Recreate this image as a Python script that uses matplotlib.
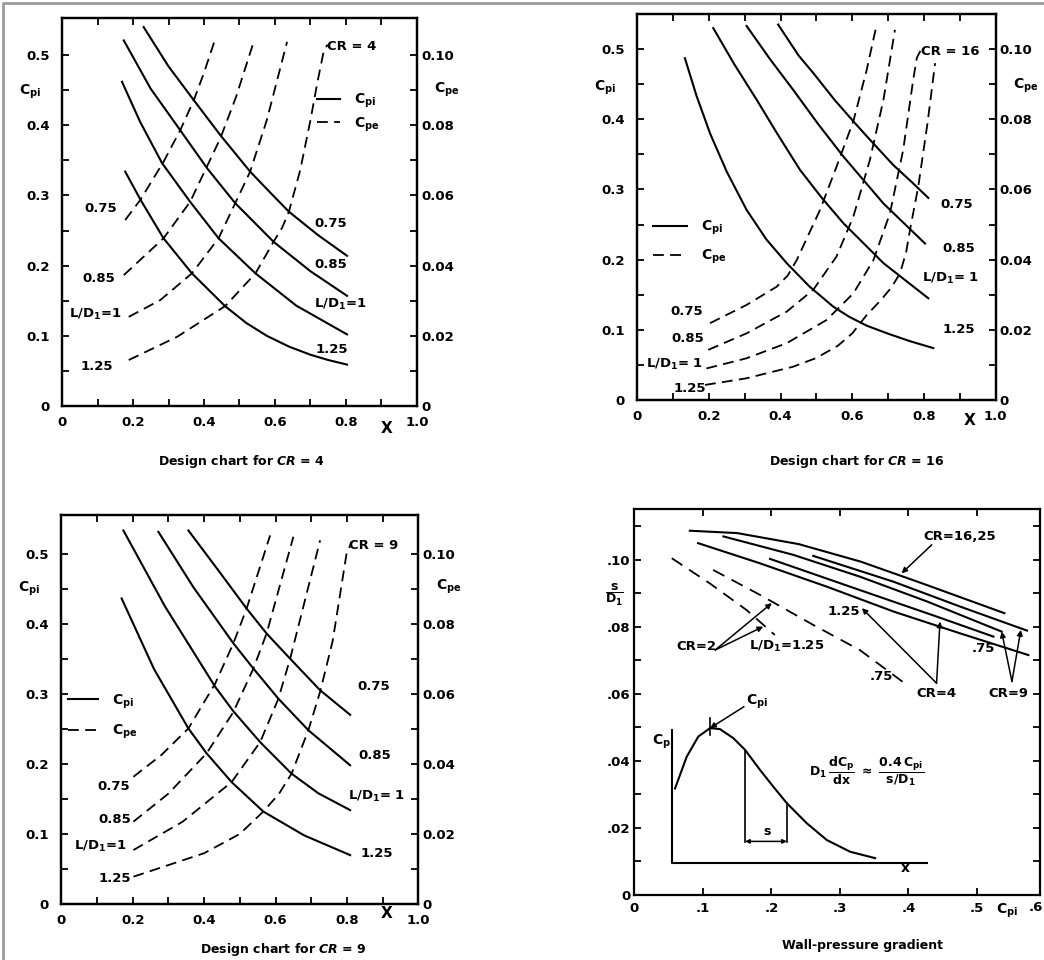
import matplotlib
matplotlib.use("Agg")
import matplotlib.pyplot as plt
from matplotlib.lines import Line2D

plt.rcParams['font.family'] = ['DejaVu Sans']
plt.rcParams['font.weight'] = 'bold'
plt.rcParams['mathtext.default'] = 'bf'
plt.rcParams['axes.linewidth'] = 1.6

DASH = (0, (6, 3.5))
BR_DASH = (0, (7, 4.5))

# ---- Design chart CR = 4 : Cpi (solid, left axis) and Cpe (dashed, right axis) vs X
cr4_cpi = {
    '0.75': ([0.230, 0.30, 0.371, 0.446, 0.530, 0.585, 0.639, 0.72, 0.803],
             [0.540, 0.484, 0.436, 0.386, 0.334, 0.305, 0.277, 0.244, 0.214]),
    '0.85': ([0.174, 0.25, 0.333, 0.41, 0.488, 0.596, 0.70, 0.803],
             [0.521, 0.452, 0.393, 0.338, 0.289, 0.234, 0.192, 0.157]),
    '1': ([0.169, 0.22, 0.282, 0.361, 0.441, 0.545, 0.66, 0.803],
          [0.462, 0.405, 0.346, 0.291, 0.239, 0.189, 0.143, 0.102]),
    '1.25': ([0.178, 0.221, 0.286, 0.366, 0.460, 0.52, 0.577, 0.64, 0.70, 0.75, 0.803],
             [0.334, 0.294, 0.239, 0.189, 0.142, 0.118, 0.100, 0.0845, 0.073, 0.0655, 0.059]),
}
cr4_cpe = {
    '0.75': ([0.178, 0.221, 0.286, 0.333, 0.371, 0.399, 0.432],
             [0.0530, 0.0588, 0.0696, 0.0786, 0.0871, 0.0947, 0.1047]),
    '0.85': ([0.174, 0.286, 0.361, 0.408, 0.446, 0.490, 0.540],
             [0.0373, 0.0478, 0.0582, 0.0682, 0.0763, 0.0880, 0.1038]),
    '1': ([0.188, 0.277, 0.366, 0.441, 0.488, 0.530, 0.577, 0.634],
          [0.0254, 0.0302, 0.0378, 0.0478, 0.0578, 0.0668, 0.0815, 0.1038]),
    '1.25': ([0.188, 0.324, 0.460, 0.545, 0.596, 0.62, 0.639, 0.671, 0.700, 0.719, 0.737, 0.748],
             [0.0131, 0.0197, 0.0285, 0.0378, 0.0468, 0.0508, 0.0553, 0.0672, 0.0815, 0.0920, 0.1010, 0.1030]),
}

# ---- Design chart CR = 16
cr16_cpi = {
    '0.75': ([0.393, 0.45, 0.491, 0.55, 0.603, 0.649, 0.714, 0.765, 0.812],
             [0.535, 0.491, 0.466, 0.428, 0.397, 0.371, 0.335, 0.311, 0.288]),
    '0.85': ([0.305, 0.37, 0.435, 0.505, 0.575, 0.687, 0.803],
             [0.533, 0.486, 0.442, 0.393, 0.347, 0.280, 0.223]),
    '1': ([0.212, 0.27, 0.333, 0.39, 0.454, 0.515, 0.575, 0.687, 0.812],
          [0.530, 0.479, 0.428, 0.380, 0.328, 0.288, 0.252, 0.195, 0.145]),
    '1.25': ([0.133, 0.165, 0.203, 0.25, 0.305, 0.36, 0.417, 0.48, 0.547, 0.59, 0.64, 0.70, 0.76, 0.826],
             [0.487, 0.434, 0.380, 0.325, 0.271, 0.229, 0.195, 0.162, 0.133, 0.119, 0.106, 0.0945, 0.084, 0.074]),
}
cr16_cpe = {
    '0.75': ([0.203, 0.305, 0.389, 0.42, 0.445, 0.510, 0.556, 0.603, 0.640, 0.668],
             [0.0219, 0.0271, 0.0323, 0.0355, 0.0399, 0.0542, 0.0665, 0.0795, 0.0940, 0.1070]),
    '0.85': ([0.198, 0.305, 0.417, 0.491, 0.556, 0.603, 0.649, 0.687, 0.719],
             [0.0143, 0.0190, 0.0252, 0.0314, 0.0409, 0.0523, 0.0684, 0.0856, 0.1055]),
    '1': ([0.193, 0.305, 0.417, 0.528, 0.603, 0.659, 0.705, 0.742, 0.770, 0.780, 0.790],
          [0.0090, 0.0119, 0.0162, 0.0228, 0.0304, 0.0399, 0.0532, 0.0713, 0.0913, 0.0975, 0.0995]),
    '1.25': ([0.189, 0.305, 0.435, 0.50, 0.56, 0.60, 0.64, 0.68, 0.71, 0.733, 0.75, 0.761, 0.784, 0.81, 0.831],
             [0.0043, 0.0062, 0.0095, 0.0120, 0.0155, 0.0190, 0.0242, 0.0285, 0.0322, 0.0361, 0.0420,
              0.0485, 0.0608, 0.0790, 0.0960]),
}

# ---- Design chart CR = 9
cr9_cpi = {
    '0.75': ([0.356, 0.44, 0.519, 0.575, 0.641, 0.725, 0.809],
             [0.533, 0.476, 0.4216, 0.386, 0.350, 0.305, 0.270]),
    '0.85': ([0.272, 0.37, 0.482, 0.538, 0.608, 0.692, 0.809],
             [0.531, 0.452, 0.372, 0.336, 0.293, 0.248, 0.198]),
    '1': ([0.174, 0.29, 0.431, 0.482, 0.557, 0.645, 0.72, 0.809],
          [0.533, 0.425, 0.310, 0.275, 0.231, 0.186, 0.158, 0.134]),
    '1.25': ([0.169, 0.26, 0.356, 0.407, 0.477, 0.566, 0.68, 0.809],
             [0.436, 0.335, 0.2505, 0.215, 0.174, 0.1319, 0.098, 0.0698]),
}
cr9_cpe = {
    '0.75': ([0.202, 0.28, 0.356, 0.431, 0.482, 0.519, 0.585],
             [0.0363, 0.0425, 0.0501, 0.0629, 0.0744, 0.0843, 0.1052]),
    '0.85': ([0.202, 0.30, 0.407, 0.482, 0.538, 0.575, 0.650],
             [0.0235, 0.0315, 0.0430, 0.0548, 0.0672, 0.0772, 0.1048]),
    '1': ([0.202, 0.34, 0.477, 0.557, 0.608, 0.641, 0.725],
          [0.0154, 0.0235, 0.0348, 0.0462, 0.0586, 0.0700, 0.1038]),
    '1.25': ([0.202, 0.40, 0.50, 0.566, 0.61, 0.645, 0.692, 0.725, 0.76, 0.799, 0.812],
             [0.0078, 0.0145, 0.0200, 0.0264, 0.0315, 0.0372, 0.0496, 0.0606, 0.0750, 0.1000, 0.1030]),
}

# ---- Wall-pressure gradient: s/D1 vs Cpi
wall_solid = [
    ([0.081, 0.15, 0.24, 0.33, 0.42, 0.54], [0.1087, 0.1080, 0.1047, 0.0995, 0.0930, 0.0841]),
    ([0.130, 0.232, 0.329, 0.427, 0.536], [0.1070, 0.1015, 0.0950, 0.0876, 0.0786]),
    ([0.261, 0.378, 0.475, 0.573], [0.1012, 0.0935, 0.0861, 0.0789]),
    ([0.198, 0.329, 0.441, 0.524], [0.1003, 0.0910, 0.0831, 0.0771]),
    ([0.093, 0.183, 0.281, 0.378, 0.475, 0.575], [0.1050, 0.0990, 0.0920, 0.0846, 0.0781, 0.0716]),
]
wall_dashed = [
    ([0.0546, 0.110, 0.164, 0.205], [0.1005, 0.0930, 0.0850, 0.0776]),
    ([0.115, 0.183, 0.261, 0.329, 0.393], [0.0970, 0.0896, 0.0806, 0.0731, 0.0634]),
]
# inset sketch: Cp along x
inset_x = [0.0594, 0.0765, 0.0934, 0.1105, 0.125, 0.1445, 0.1616, 0.1835, 0.2029,
           0.2225, 0.2517, 0.2809, 0.315, 0.3514]
inset_cp = [0.0318, 0.0413, 0.0473, 0.0498, 0.0495, 0.0468, 0.0433, 0.0373, 0.0323,
            0.0274, 0.0214, 0.0164, 0.0129, 0.0110]
inset_axis_x = [0.0546, 0.0546, 0.4268]
inset_axis_y = [0.0493, 0.0096, 0.0096]

fig = plt.figure(figsize=(10.44, 9.6), dpi=100)
fig.add_artist(Line2D([0.003, 0.003, 1.0], [0.0, 0.997, 0.997], transform=fig.transFigure,
                      color='#9a9a9a', lw=2))


def design_chart(rect, cpi, cpe, ytop, left_labels, right_labels, cr_label, legend_pos,
                 legend_len, legend_space, xlabel_pos, title_xy, title):
    ax = fig.add_axes(rect)
    ax.set_xlim(0, 1)
    ax.set_ylim(0, ytop)
    for xs, ys in cpi.values():
        ax.plot(xs, ys, color='k', lw=1.5)
    ax2 = ax.twinx()
    ax2.set_ylim(0, ytop / 5)
    for xs, ys in cpe.values():
        ax2.plot(xs, ys, color='k', lw=1.3, ls=DASH)

    ax.set_xticks([0, 0.2, 0.4, 0.6, 0.8, 1.0], ['0', '0.2', '0.4', '0.6', '0.8', '1.0'])
    ax.set_xticks([0.1, 0.3, 0.5, 0.7, 0.9], minor=True)
    ax.set_yticks([0, 0.1, 0.2, 0.3, 0.4, 0.5], ['0', '0.1', '0.2', '0.3', '0.4', '0.5'])
    ax.set_yticks([0.05, 0.15, 0.25, 0.35, 0.45], minor=True)
    ax2.set_yticks([0, 0.02, 0.04, 0.06, 0.08, 0.10], ['0', '0.02', '0.04', '0.06', '0.08', '0.10'])
    ax2.set_yticks([0.01, 0.03, 0.05, 0.07, 0.09], minor=True)
    ax.tick_params(which='both', direction='in', length=5, width=1.3, top=True, right=False,
                   labelsize=9.5)
    ax.tick_params(axis='y', pad=9)
    ax.tick_params(axis='x', pad=7)
    ax2.tick_params(which='both', direction='in', length=5, width=1.3, labelsize=9.5, pad=3)

    for txt, (x, y) in left_labels + right_labels:
        ax.text(x, y, txt, ha='center', va='center', fontsize=9.5)
    ax.text(cr_label[1][0], cr_label[1][1], cr_label[0], ha='center', va='center', fontsize=9.5)

    handles = [Line2D([], [], color='k', lw=1.5), Line2D([], [], color='k', lw=1.3, ls=DASH)]
    ax.legend(handles, [r'C$_{pi}$', r'C$_{pe}$'], frameon=False, loc='center left',
              bbox_to_anchor=legend_pos, borderpad=0, borderaxespad=0, fontsize=10,
              handlelength=legend_len, handletextpad=1.0, labelspacing=legend_space)

    ax.text(-0.09, 0.81, r'C$_{pi}$', transform=ax.transAxes, ha='center', va='center', fontsize=10)
    ax.text(1.085, 0.815, r'C$_{pe}$', transform=ax.transAxes, ha='center', va='center', fontsize=10)
    ax.text(xlabel_pos[0], xlabel_pos[1], 'X', transform=ax.transAxes, ha='center', va='center',
            fontsize=11)
    fig.text(title_xy[0], title_xy[1], title, ha='center', va='center', fontsize=9)
    return ax


design_chart([0.0594, 0.5771, 0.3400, 0.4042], cr4_cpi, cr4_cpe, 0.553,
             [('0.75', (0.108, 0.282)), ('0.85', (0.103, 0.182)),
              (r'L/D$_1$=1', (0.094, 0.130)), ('1.25', (0.099, 0.056))],
             [('0.75', (0.756, 0.260)), ('0.85', (0.756, 0.201)),
              (r'L/D$_1$=1', (0.784, 0.144)), ('1.25', (0.761, 0.080))],
             ('CR = 4', (0.815, 0.512)), (0.718, 0.756), 1.65, 0.4,
             (0.915, -0.057), (241 / 1044, 1 - 461 / 960), r'Design chart for $\mathit{CR}$ = 4')

design_chart([0.6104, 0.5833, 0.3433, 0.4021], cr16_cpi, cr16_cpe, 0.550,
             [('0.75', (0.138, 0.126)), ('0.85', (0.142, 0.088)),
              (r'L/D$_1$= 1', (0.105, 0.050)), ('1.25', (0.147, 0.017))],
             [('0.75', (0.891, 0.278)), ('0.85', (0.896, 0.216)),
              (r'L/D$_1$= 1', (0.873, 0.173)), ('1.25', (0.896, 0.100))],
             ('CR = 16', (0.873, 0.497)), (0.045, 0.408), 2.4, 0.8,
             (0.928, -0.052), (857 / 1044, 1 - 462 / 960), r'Design chart for $\mathit{CR}$ = 16')

design_chart([0.0587, 0.0583, 0.3420, 0.4052], cr9_cpi, cr9_cpe, 0.555,
             [('0.75', (0.146, 0.167)), ('0.85', (0.150, 0.120)),
              (r'L/D$_1$=1', (0.108, 0.082)), ('1.25', (0.150, 0.037))],
             [('0.75', (0.874, 0.310)), ('0.85', (0.879, 0.212)),
              (r'L/D$_1$= 1', (0.883, 0.153)), ('1.25', (0.883, 0.072))],
             ('CR = 9', (0.874, 0.512)), (0.02, 0.481), 2.15, 0.9,
             (0.911, -0.024), (283 / 1044, 1 - 949 / 960), r'Design chart for $\mathit{CR}$ = 9')

# ---- Wall-pressure gradient panel
ax = fig.add_axes([0.6076, 0.0677, 0.3886, 0.4018])
ax.set_xlim(0, 0.592)
ax.set_ylim(0, 0.1151)
for xs, ys in wall_solid:
    ax.plot(xs, ys, color='k', lw=1.5)
for xs, ys in wall_dashed:
    ax.plot(xs, ys, color='k', lw=1.3, ls=BR_DASH)

ax.set_xticks([0, 0.1, 0.2, 0.3, 0.4, 0.5], ['0', '.1', '.2', '.3', '.4', '.5'])
ax.set_yticks([0, 0.02, 0.04, 0.06, 0.08, 0.10], ['0', '.02', '.04', '.06', '.08', '.10'])
ax.set_yticks([0.01, 0.03, 0.05, 0.07, 0.09, 0.11], minor=True)
ax.tick_params(which='both', direction='in', length=5, width=1.3, top=True, right=True,
               labelsize=9.5)
ax.tick_params(axis='y', pad=3)
ax.tick_params(axis='x', pad=5)
fig.text(0.9995, 1 - 901 / 960, '.6', ha='right', va='top', fontsize=9.5)
ax.text(-0.048, 0.778, r'$\dfrac{s}{D_1}$', transform=ax.transAxes, ha='center', va='center',
        fontsize=9)
ax.text(0.918, -0.042, r'C$_{pi}$', transform=ax.transAxes, ha='center', va='center', fontsize=10)

arrow = dict(arrowstyle='-|>', color='k', lw=1.1, mutation_scale=8, shrinkA=0, shrinkB=0)
ax.text(0.475, 0.107, 'CR=16,25', ha='center', va='center', fontsize=9.5)
ax.annotate('', xy=(0.390, 0.0960), xytext=(0.434, 0.1045), arrowprops=arrow)
ax.text(0.091, 0.0741, 'CR=2', ha='center', va='center', fontsize=9.5)
ax.annotate('', xy=(0.2006, 0.0871), xytext=(0.118, 0.0731), arrowprops=arrow)
ax.annotate('', xy=(0.188, 0.0801), xytext=(0.118, 0.0731), arrowprops=arrow)
ax.text(0.222, 0.0741, r'L/D$_1$=1.25', ha='center', va='center', fontsize=9.5)
ax.text(0.306, 0.0846, '1.25', ha='center', va='center', fontsize=9.5)
ax.annotate('', xy=(0.332, 0.0856), xytext=(0.441, 0.0632), arrowprops=arrow)
ax.annotate('', xy=(0.446, 0.0816), xytext=(0.441, 0.0632), arrowprops=arrow)
ax.text(0.441, 0.0602, 'CR=4', ha='center', va='center', fontsize=9.5)
ax.text(0.361, 0.0652, '.75', ha='center', va='center', fontsize=9.5)
ax.text(0.509, 0.0736, '.75', ha='center', va='center', fontsize=9.5)
ax.text(0.546, 0.0602, 'CR=9', ha='center', va='center', fontsize=9.5)
ax.annotate('', xy=(0.536, 0.0786), xytext=(0.551, 0.0637), arrowprops=arrow)
ax.annotate('', xy=(0.564, 0.0791), xytext=(0.551, 0.0637), arrowprops=arrow)

# inset sketch of the wall-pressure distribution
ax.plot(inset_axis_x, inset_axis_y, color='k', lw=1.5)
ax.plot(inset_x, inset_cp, color='k', lw=1.5)
ax.plot([inset_x[3], inset_x[3]], [0.0528, 0.0476], color='k', lw=1.2)
ax.plot([inset_x[6], inset_x[6]], [inset_cp[6], 0.0159], color='k', lw=1.2)
ax.plot([inset_x[9], inset_x[9]], [inset_cp[9], 0.0159], color='k', lw=1.2)
ax.annotate('', xy=(inset_x[9], 0.0160), xytext=(inset_x[6], 0.0160),
            arrowprops=dict(arrowstyle='<|-|>', color='k', lw=1.1, mutation_scale=6,
                            shrinkA=0, shrinkB=0))
ax.text(0.193, 0.0189, 's', ha='center', va='center', fontsize=9)
ax.text(0.040, 0.0458, r'C$_p$', ha='center', va='center', fontsize=10)
ax.text(0.395, 0.0080, 'x', ha='center', va='center', fontsize=10)
ax.text(0.1786, 0.0577, r'C$_{pi}$', ha='center', va='center', fontsize=10)
ax.annotate('', xy=(inset_x[3], inset_cp[3]), xytext=(0.160, 0.0562), arrowprops=arrow)
ax.text(0.339, 0.0368, r'D$_1\,\dfrac{dC_p}{dx}\ \approx\ \dfrac{0.4\,C_{pi}}{s/D_1}$',
        ha='center', va='center', fontsize=9)

fig.text(862 / 1044, 1 - 945 / 960, 'Wall-pressure gradient', ha='center', va='center', fontsize=9)

fig.savefig('out.png', dpi=100, facecolor='white')
